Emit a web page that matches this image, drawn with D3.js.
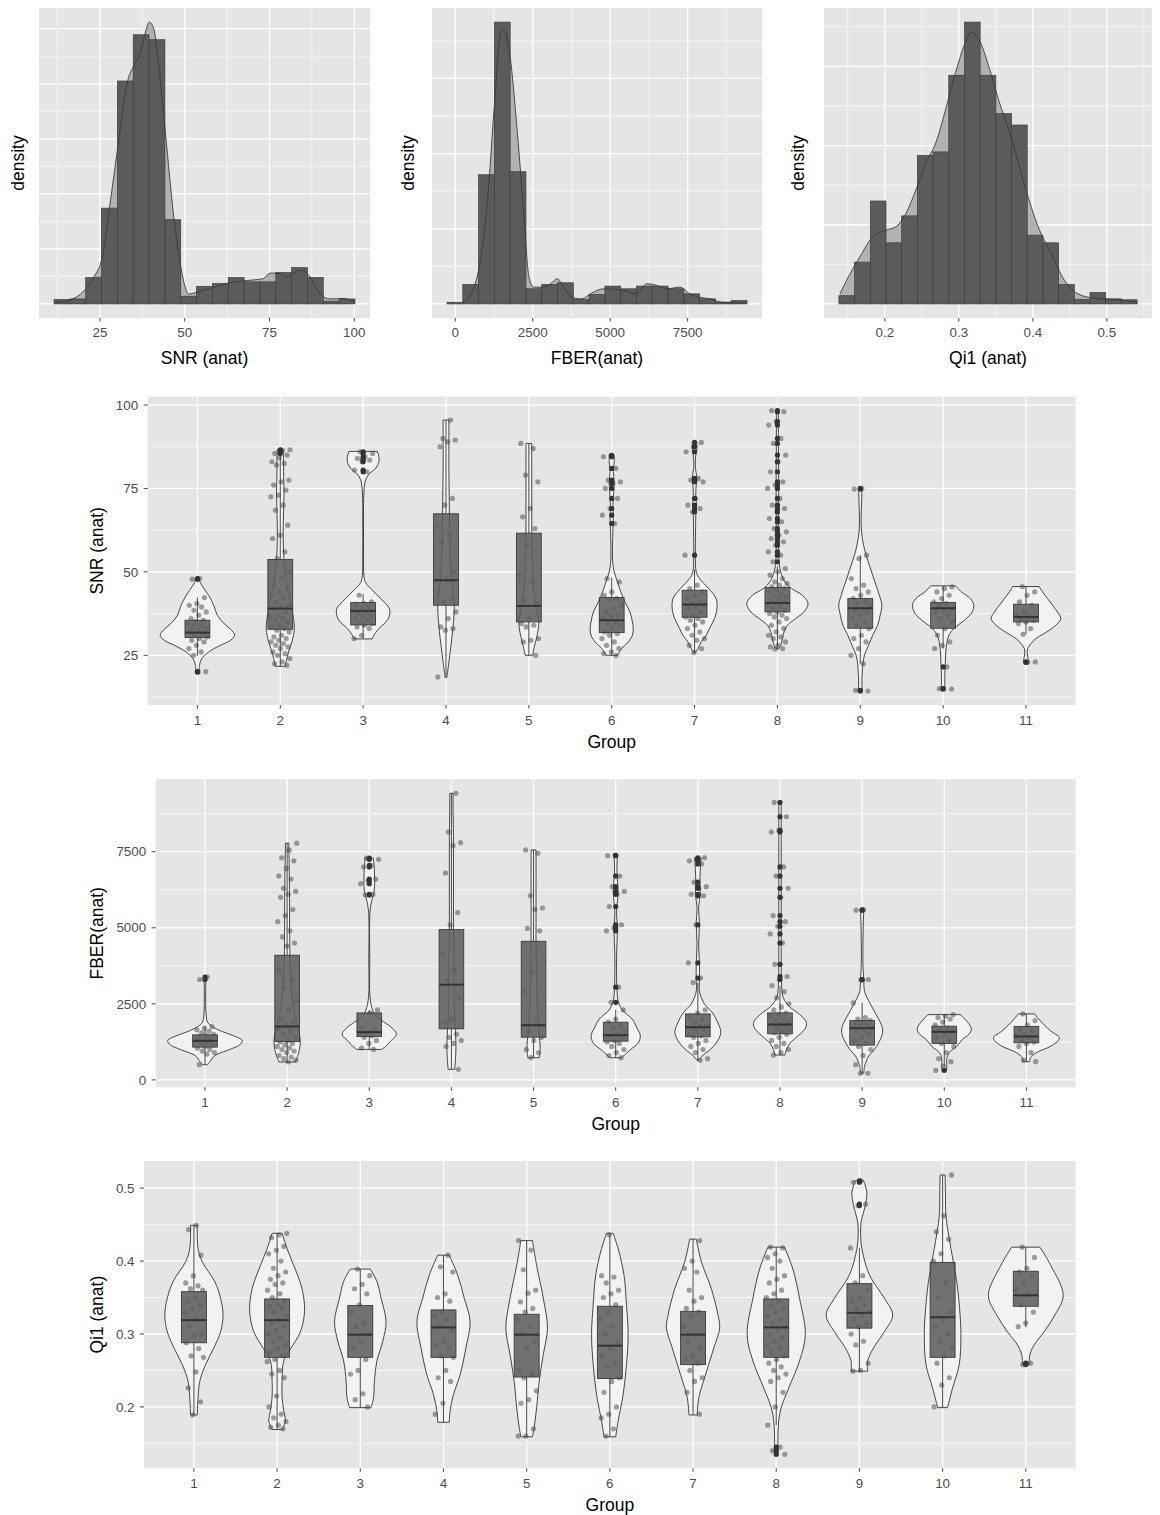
<!DOCTYPE html>
<html>
<head>
<meta charset="utf-8">
<title>Anatomical QC metrics</title>
<script src="https://d3js.org/d3.v7.min.js"></script>
<style>
  * { margin:0; padding:0; }
  body { background:#fff; font-family:"Liberation Sans", Arial, sans-serif; }
  .tick-label { font-size:13.4px; fill:#4d4d4d; }
  .axis-title { font-size:17.5px; fill:#000; }
</style>
</head>
<body>
<svg id="chart" width="1160" height="1515"></svg>
<script>
// ---------- histograms (density scale) ----------
const snrBinStart = 11.47, snrBinWidth = 4.67;
const snrHist = [0.0008,0.0009,0.0048,0.0174,0.0405,0.0489,0.0480,0.0153,0.0014,0.0032,0.0037,0.0048,0.0040,0.0040,0.0057,0.0066,0.0048,0.0005,0.0009];
const snrCurveX = [11.67,15.39,19.31,23.24,25.69,28.14,30.59,33.04,35.0,36.96,38.43,39.61,40.88,42.35,44.31,46.76,49.21,51.18,53.63,58.53,64.41,69.31,73.24,75.2,78.14,80.1,82.06,84.51,86.96,89.9,92.84,96.76,100.2];
const snrCurveY = [0.0003,0.0006,0.0018,0.0049,0.0085,0.0189,0.0299,0.0402,0.0433,0.0457,0.0494,0.0512,0.05,0.0433,0.0311,0.0159,0.0055,0.0018,0.0021,0.003,0.004,0.0043,0.0046,0.0056,0.0055,0.0049,0.0056,0.0061,0.0049,0.0018,0.0009,0.001,0.0003];
const snrTicks = [25, 50, 75, 100];

// FBER density values are x 1e5
const fberBinStart = -267, fberBinWidth = 509.6;
const fberHist = [0.22,2.59,17.19,37.5,17.59,2.01,2.59,2.81,0.58,1.25,2.37,2.01,2.37,2.37,2.01,1.34,0.67,0.22,0.45];
const fberCurveX = [258,504,772,1040,1276,1468,1575,1736,2004,2218,2378,2539,2807,3075,3289,3502,3771,4092,4360,4788,5430,5860,6181,6502,6823,7252,7573,7894,8216,8643,8964,9394];
const fberCurveY = [0.22,1.34,4.91,13.8,27.2,36.2,36.4,33.9,22.8,11.6,3.57,2.23,2.23,2.68,3.35,2.23,0.89,0.67,1.34,2.01,1.79,1.34,2.68,2.46,2.01,2.23,1.34,0.89,0.67,0.22,0.22,0.09];
const fberTicks = [0, 2500, 5000, 7500];

const qiBinStart = 0.138, qiBinWidth = 0.0212;
const qiHist = [0.26,1.32,3.25,1.93,2.78,4.69,4.80,7.22,8.90,7.22,6.01,5.65,2.17,1.93,0.61,0.14,0.36,0.16,0.13];
const qiCurveX = [0.1394,0.1483,0.1661,0.184,0.2019,0.2153,0.2286,0.242,0.2554,0.2688,0.2822,0.2956,0.309,0.317,0.3268,0.3402,0.3535,0.3714,0.3893,0.4071,0.4249,0.4428,0.4606,0.483,0.5052,0.5231,0.541];
const qiCurveY = [0.32,0.74,1.48,2.12,2.33,2.44,2.86,3.6,4.45,5.08,6.14,7.31,8.26,8.58,8.37,7.52,6.46,5.19,3.71,2.44,1.59,0.74,0.32,0.18,0.14,0.11,0.05];
const qiTicks = [0.2, 0.3, 0.4, 0.5];

// ---------- per-group violins ----------
const groups = ["1","2","3","4","5","6","7","8","9","10","11"];

// violin outlines: [value, relative half width]
const snrViolin = [
  [[20.1,0.02],[21.9,0.025],[23.9,0.05],[25.9,0.13],[27.9,0.27],[29.5,0.4],[31.0,0.45],[32.8,0.4],[34.8,0.31],[37,0.24],[39.8,0.2],[42.8,0.14],[44.8,0.085],[46.8,0.035],[48.0,0.02]],
  [[21.7,0.06],[23,0.07],[26,0.1],[29,0.14],[32.8,0.17],[36,0.16],[40,0.13],[44,0.1],[48,0.07],[52,0.05],[56,0.04],[62,0.035],[68,0.04],[74,0.045],[80,0.04],[84,0.04],[86.6,0.035]],
  [[29.9,0.11],[31,0.13],[33,0.19],[35.8,0.3],[38.8,0.32],[41.8,0.22],[44.8,0.1],[46.8,0.03],[48.8,0.01],[55,0.005],[65,0.005],[72,0.006],[75.6,0.015],[77.6,0.03],[79.6,0.08],[81,0.15],[83,0.19],[84.6,0.19],[86.1,0.17]],
  [[18.4,0.01],[22,0.03],[25,0.045],[30,0.07],[35,0.09],[40,0.1],[45,0.08],[50,0.06],[55,0.05],[60,0.045],[70,0.04],[80,0.035],[90,0.035],[95.5,0.035]],
  [[25.0,0.045],[28,0.07],[31,0.1],[34.8,0.12],[38,0.1],[42,0.07],[48,0.05],[55,0.04],[65,0.035],[75,0.035],[85,0.035],[88.5,0.035]],
  [[25.0,0.07],[27,0.12],[29,0.2],[31,0.25],[33,0.26],[35,0.25],[38,0.22],[41,0.16],[44,0.11],[47,0.07],[50,0.03],[53,0.012],[58,0.01],[63,0.015],[66,0.02],[70,0.015],[74,0.025],[77,0.03],[80,0.02],[83,0.03],[84.9,0.03]],
  [[25.8,0.01],[27,0.04],[29,0.08],[31,0.14],[33,0.18],[36,0.24],[39,0.27],[42,0.26],[45,0.17],[48,0.06],[50,0.02],[55,0.01],[62,0.012],[67,0.015],[70,0.025],[72,0.015],[76,0.02],[78,0.03],[81,0.01],[85,0.015],[87,0.03],[88.9,0.025]],
  [[26.9,0.015],[28,0.04],[30,0.06],[32,0.08],[34,0.12],[36,0.22],[38,0.32],[40.5,0.37],[43,0.3],[45,0.17],[47,0.09],[50,0.04],[53,0.02],[60,0.015],[70,0.015],[80,0.015],[90,0.012],[98.3,0.012]],
  [[14.3,0.025],[16,0.02],[18,0.02],[20,0.025],[22,0.03],[25,0.05],[28,0.1],[31,0.15],[34,0.21],[37,0.24],[40,0.26],[43,0.23],[46,0.19],[49,0.15],[52,0.11],[55,0.07],[58,0.04],[62,0.015],[66,0.01],[70,0.015],[75,0.02]],
  [[14.9,0.025],[16.5,0.02],[19,0.02],[22,0.025],[25,0.03],[28,0.04],[31,0.07],[33,0.13],[36,0.28],[38,0.35],[40,0.37],[42,0.33],[44,0.22],[45.8,0.15]],
  [[22.9,0.03],[24,0.025],[25.5,0.015],[27,0.02],[28.5,0.06],[30,0.12],[32,0.25],[34,0.36],[36,0.42],[38,0.38],[40,0.32],[42,0.26],[44,0.2],[45.6,0.16]]
];
// box: [lower whisker, q1, median, q3, upper whisker]
const snrBox = [
  [24.9,30.3,31.8,35.5,42.3],[21.7,32.8,39.0,53.7,85.0],[29.9,34.1,38.3,40.8,43.3],[18.4,40.0,47.5,67.4,95.5],
  [25.0,35.0,39.8,61.6,88.5],[25.0,31.8,35.5,42.3,48.3],[25.8,36.4,40.2,44.5,50.7],[26.9,38.0,40.7,45.3,51.7],
  [22.5,33.1,39.1,42.0,55.0],[27.0,33.1,39.1,40.8,45.8],[31.3,35.0,36.5,40.3,45.6]
];
const snrPoints = [
  [48,47.8,42.3,40.5,40,39.5,38.5,38,37,36,35.5,35,34.5,34,33.5,33,32.5,32,31.5,31,30.5,30,29.5,29,28,27,26,25,20.1,20],
  [86.6,86.4,85.5,85,84.2,83,82.5,82,77.5,77,76,74.5,73,72.5,70,68.5,64,61,60,56,54,50,48,46,45,44,43,42,41,40,39.5,39,38,37,36.5,36,35.5,35,34,33.5,33,32.5,32,31,30.5,30,29.5,29,28.5,28,27.5,27,26,25.5,25,24,23,22.5,22],
  [86,85.5,84.5,84,83.5,83,80.5,80,43,41,40.5,40,39.5,39,38.5,38,37.5,37,36.5,36,35.5,35,34.5,34,33.5,33,31,30],
  [95.5,90,89.5,89,87.5,72,70,64,61,59,50,48,44,42,41,38,36,33.5,33,32.5,18.5],
  [88.5,87,79,77,69,66.5,63,58,49,47,41.5,40.5,36,34.5,34,33.5,30,29.5,29,25],
  [84.9,84.5,81,77.5,77,76.5,75,72,69,67,64.5,48,47,44,43,42,41.5,40,39,38,37,36.5,36,35,34.5,34,33,32,31.5,31,30,29,28,27,26,25.5,25],
  [88.8,87.5,86,78,77.5,77,72,70,69,68,55,46,45,44,43,42,41,40.5,40,39.5,39,38,37,36.5,36,35.5,35,34,33,32,31,30,29.5,28,27,25.8],
  [98.3,98,95,94,90,88.5,85,83,80,77,76,75,72,70,69,68,66,65,63,62,61,60,59,58,56,55,53,51,50,49,48,47,46.5,46,45.5,45,44.5,44,43.5,43,42.5,42,41.5,41,40.5,40,39.5,39,38.5,38,37.5,37,36.5,36,35,34,33,32,31,30.5,30,29,28,27.5,27,26.9],
  [75,74.8,55,54,48,46,45,44,43,42,41,40.5,40,39,38.5,38,37,36,35,34,33,31,30,29,27,25,22.5,14.5,14.3],
  [45.5,45,44,43,42,41,40.5,40,39,38.5,38,37,36,35,33,31,29,28,27,21.5,15,14.9],
  [45.6,44,43,41,40,38,37,36.5,36,35.5,35,34.5,33,31.3,23,22.9]
];

const fberViolin = [
  [[500,0.03],[600,0.06],[800,0.12],[1000,0.3],[1150,0.42],[1290,0.455],[1450,0.35],[1600,0.2],[1766,0.08],[1900,0.03],[2000,0.02],[2300,0.01],[2800,0.008],[3200,0.01],[3380,0.015]],
  [[590,0.1],[800,0.13],[1000,0.15],[1300,0.16],[1600,0.14],[2000,0.1],[2500,0.07],[3000,0.05],[3500,0.04],[4000,0.035],[5000,0.03],[6000,0.03],[7000,0.025],[7780,0.02]],
  [[1003,0.15],[1100,0.2],[1250,0.25],[1500,0.33],[1700,0.28],[1900,0.18],[2100,0.08],[2300,0.04],[2700,0.01],[4000,0.006],[5500,0.008],[5900,0.03],[6200,0.06],[6600,0.065],[7000,0.06],[7290,0.05]],
  [[350,0.04],[700,0.05],[1100,0.055],[1500,0.05],[2000,0.04],[3000,0.03],[4000,0.03],[5000,0.025],[6000,0.025],[7000,0.025],[8000,0.025],[9000,0.02],[9420,0.02]],
  [[730,0.07],[1000,0.08],[1300,0.075],[1700,0.06],[2500,0.045],[3500,0.035],[4500,0.03],[5500,0.03],[6500,0.03],[7560,0.03]],
  [[730,0.07],[850,0.12],[1000,0.18],[1200,0.27],[1450,0.3],[1700,0.26],[2000,0.2],[2300,0.08],[2600,0.03],[3000,0.015],[4000,0.01],[5000,0.02],[5500,0.01],[6200,0.03],[6800,0.015],[7380,0.02]],
  [[643,0.01],[780,0.05],[1000,0.15],[1200,0.22],[1550,0.28],[1900,0.24],[2200,0.18],[2500,0.08],[2900,0.02],[3300,0.02],[3800,0.02],[4500,0.01],[5100,0.02],[5700,0.01],[6100,0.03],[6500,0.025],[6900,0.03],[7300,0.04]],
  [[818,0.06],[1000,0.08],[1200,0.12],[1400,0.2],[1700,0.31],[1900,0.32],[2150,0.24],[2400,0.12],[2700,0.04],[3100,0.02],[4000,0.015],[5000,0.015],[6000,0.015],[7000,0.015],[8000,0.015],[9120,0.015]],
  [[218,0.02],[450,0.03],[785,0.08],[1000,0.15],[1220,0.2],[1450,0.24],[1657,0.25],[1900,0.22],[2100,0.18],[2500,0.1],[2900,0.03],[3300,0.02],[3800,0.01],[4500,0.01],[5200,0.015],[5590,0.02]],
  [[316,0.03],[500,0.03],[700,0.03],[900,0.06],[1100,0.15],[1330,0.22],[1500,0.3],[1657,0.33],[1850,0.3],[2000,0.25],[2147,0.2]],
  [[600,0.04],[730,0.05],[894,0.12],[1112,0.3],[1300,0.39],[1400,0.4],[1600,0.3],[1800,0.22],[2000,0.15],[2170,0.1]]
];
const fberBox = [
  [500,1079,1286,1482,1750],[590,1264,1755,4098,7780],[1003,1428,1570,2202,2300],[350,1680,3130,4940,9420],
  [730,1406,1798,4556,7560],[730,1275,1471,1897,2300],[643,1417,1733,2169,3200],[818,1515,1820,2202,3100],
  [218,1145,1700,1951,2530],[450,1199,1580,1766,2147],[600,1221,1428,1755,2170]
];
const fberPoints = [
  [3380,3300,1750,1700,1650,1600,1550,1500,1450,1400,1350,1300,1280,1250,1200,1150,1100,1050,1000,950,900,850,500],
  [7780,7550,7300,7200,6950,6700,6600,6300,6200,6100,6000,5600,5400,5200,4900,4700,4500,4400,3600,3300,3000,2600,2300,2000,1900,1800,1700,1600,1500,1400,1300,1250,1200,1150,1100,1050,1000,950,900,800,750,700,650,590],
  [7290,7250,7050,7000,6600,6550,6450,6100,6080,2300,2200,1700,1650,1550,1500,1450,1400,1300,1200,1050,1003],
  [9420,8150,7800,7700,6800,5500,5100,4150,3600,3300,2700,2000,1900,1500,1400,1300,1200,1100,350],
  [7560,7450,6050,5650,5600,4980,4900,3550,2900,2000,1600,1400,1300,1000,900,730],
  [7380,7370,6700,6350,6200,6100,5700,5100,5000,4900,3050,2550,2300,2000,1900,1800,1700,1600,1500,1450,1400,1300,1250,1200,1100,1000,900,800,730],
  [7300,7250,7200,7100,6500,6350,6300,6100,6050,5100,3850,3350,3200,2300,2200,2100,2000,1900,1800,1750,1700,1650,1600,1500,1450,1400,1300,1200,1100,1000,900,700,643],
  [9120,8650,8200,8150,7000,6700,6300,6000,5400,5200,5050,4800,4500,3800,3400,3300,3100,2900,2700,2500,2400,2300,2200,2150,2100,2000,1950,1900,1850,1800,1750,1700,1650,1600,1550,1500,1400,1300,1200,1100,1000,900,818],
  [5590,5580,3300,3290,2530,2050,2000,1950,1900,1850,1800,1750,1700,1650,1600,1500,1400,1300,1200,1100,1000,800,500,220,218],
  [2147,2100,2050,2000,1900,1800,1700,1650,1600,1500,1400,1300,1200,1100,900,700,600,450,316],
  [2170,1950,1800,1650,1600,1500,1450,1400,1300,1250,1200,1100,900,650,600]
];

const qiViolin = [
  [[0.189,0.04],[0.213,0.05],[0.235,0.07],[0.258,0.14],[0.281,0.24],[0.303,0.32],[0.326,0.35],[0.349,0.32],[0.372,0.25],[0.399,0.1],[0.417,0.05],[0.449,0.04]],
  [[0.169,0.06],[0.181,0.1],[0.195,0.08],[0.213,0.06],[0.235,0.06],[0.263,0.08],[0.281,0.17],[0.303,0.28],[0.331,0.33],[0.362,0.3],[0.394,0.2],[0.417,0.12],[0.438,0.06]],
  [[0.199,0.13],[0.213,0.16],[0.235,0.17],[0.263,0.2],[0.29,0.27],[0.317,0.31],[0.349,0.25],[0.372,0.2],[0.389,0.12]],
  [[0.179,0.07],[0.195,0.08],[0.217,0.12],[0.244,0.2],[0.281,0.27],[0.317,0.32],[0.349,0.25],[0.381,0.17],[0.408,0.07]],
  [[0.159,0.07],[0.172,0.09],[0.199,0.12],[0.235,0.15],[0.272,0.2],[0.308,0.25],[0.349,0.2],[0.394,0.12],[0.428,0.07]],
  [[0.159,0.07],[0.181,0.1],[0.217,0.16],[0.258,0.2],[0.299,0.22],[0.34,0.2],[0.381,0.17],[0.417,0.1],[0.438,0.04]],
  [[0.189,0.05],[0.213,0.07],[0.244,0.15],[0.281,0.25],[0.308,0.32],[0.326,0.3],[0.362,0.22],[0.399,0.1],[0.43,0.04]],
  [[0.135,0.02],[0.158,0.02],[0.181,0.03],[0.199,0.06],[0.226,0.15],[0.263,0.28],[0.299,0.35],[0.349,0.28],[0.389,0.2],[0.419,0.1]],
  [[0.249,0.1],[0.263,0.1],[0.281,0.17],[0.303,0.3],[0.326,0.4],[0.349,0.3],[0.381,0.12],[0.417,0.03],[0.435,0.015],[0.453,0.02],[0.476,0.07],[0.494,0.09],[0.51,0.05]],
  [[0.199,0.06],[0.226,0.12],[0.258,0.2],[0.299,0.22],[0.326,0.21],[0.372,0.17],[0.417,0.1],[0.462,0.04],[0.49,0.035],[0.518,0.03]],
  [[0.258,0.04],[0.272,0.05],[0.285,0.1],[0.303,0.22],[0.326,0.35],[0.353,0.45],[0.394,0.3],[0.419,0.17]]
];
const qiBox = [
  [0.189,0.288,0.319,0.358,0.449],[0.169,0.268,0.319,0.348,0.438],[0.199,0.268,0.299,0.339,0.389],[0.179,0.268,0.309,0.333,0.408],
  [0.159,0.241,0.299,0.327,0.428],[0.159,0.239,0.284,0.338,0.438],[0.189,0.258,0.299,0.331,0.43],[0.175,0.268,0.309,0.348,0.419],
  [0.249,0.308,0.329,0.369,0.418],[0.199,0.268,0.323,0.398,0.518],[0.309,0.338,0.353,0.386,0.419]
];
const qiPoints = [
  [0.449,0.443,0.408,0.38,0.37,0.366,0.362,0.36,0.35,0.345,0.34,0.335,0.33,0.32,0.31,0.3,0.298,0.288,0.28,0.27,0.268,0.248,0.226,0.207,0.189],
  [0.438,0.436,0.432,0.42,0.415,0.41,0.4,0.39,0.385,0.38,0.375,0.37,0.368,0.36,0.355,0.35,0.345,0.34,0.338,0.335,0.33,0.325,0.32,0.315,0.31,0.305,0.3,0.295,0.29,0.285,0.28,0.275,0.27,0.265,0.262,0.25,0.245,0.24,0.215,0.2,0.19,0.185,0.18,0.175,0.172,0.17],
  [0.389,0.38,0.368,0.362,0.355,0.34,0.33,0.315,0.31,0.3,0.29,0.28,0.265,0.25,0.245,0.218,0.21,0.2],
  [0.408,0.392,0.385,0.355,0.35,0.345,0.33,0.325,0.32,0.31,0.305,0.29,0.285,0.28,0.27,0.268,0.25,0.24,0.235,0.205,0.19],
  [0.428,0.415,0.388,0.36,0.356,0.344,0.335,0.33,0.32,0.31,0.3,0.29,0.28,0.25,0.245,0.24,0.222,0.21,0.205,0.17,0.16,0.16],
  [0.436,0.38,0.378,0.37,0.36,0.355,0.35,0.34,0.33,0.32,0.31,0.3,0.29,0.28,0.27,0.26,0.255,0.24,0.235,0.22,0.2,0.19,0.185,0.17,0.16],
  [0.428,0.4,0.39,0.385,0.36,0.35,0.345,0.335,0.33,0.325,0.31,0.3,0.29,0.28,0.27,0.265,0.26,0.25,0.24,0.235,0.22,0.19],
  [0.419,0.418,0.41,0.405,0.4,0.39,0.38,0.375,0.37,0.36,0.355,0.35,0.345,0.34,0.335,0.33,0.325,0.32,0.315,0.31,0.305,0.3,0.295,0.29,0.285,0.28,0.275,0.27,0.265,0.26,0.255,0.25,0.245,0.24,0.235,0.22,0.2,0.175,0.145,0.14,0.135],
  [0.51,0.508,0.478,0.476,0.418,0.38,0.37,0.36,0.35,0.345,0.34,0.335,0.33,0.325,0.32,0.315,0.31,0.3,0.29,0.285,0.26,0.25,0.249],
  [0.518,0.462,0.44,0.43,0.41,0.4,0.37,0.35,0.33,0.32,0.31,0.3,0.29,0.28,0.27,0.26,0.24,0.23,0.2],
  [0.419,0.405,0.39,0.385,0.38,0.37,0.36,0.355,0.34,0.33,0.315,0.31,0.26,0.258]
];
const snrAxisTicks = [25, 50, 75, 100];
const fberAxisTicks = [0, 2500, 5000, 7500];
const qiAxisTicks = [0.2, 0.3, 0.4, 0.5];

const svg = d3.select("#chart");
const panelFill = "#e5e5e6";

function histPanel(p) {
  const nb = p.dens.length;
  const xLo = p.binStart, xHi = p.binStart + nb * p.binWidth;
  const xPad = (xHi - xLo) * 0.05;
  const x = d3.scaleLinear().domain([xLo - xPad, xHi + xPad]).range([p.left, p.right]);
  const yMax = Math.max(d3.max(p.dens), d3.max(p.curveY));
  const y = d3.scaleLinear().domain([-yMax * 0.05, yMax * 1.05]).range([p.bottom, p.top]);
  const g = svg.append("g");

  g.append("rect").attr("x", p.left).attr("y", p.top)
    .attr("width", p.right - p.left).attr("height", p.bottom - p.top).attr("fill", panelFill);

  const xs = p.ticks[1] - p.ticks[0];
  const [d0, d1] = x.domain();
  const xMinor = d3.range(p.ticks[0] - xs / 2, d1, xs).filter(v => v > d0);
  const yMinor = d3.range(p.yStep / 2, yMax * 1.05, p.yStep);
  const yMajor = d3.range(0, yMax * 1.05, p.yStep);
  g.selectAll(".xmin").data(xMinor).join("line")
    .attr("x1", d => x(d)).attr("x2", d => x(d)).attr("y1", p.top).attr("y2", p.bottom)
    .attr("stroke", "#fff").attr("stroke-width", 0.6);
  g.selectAll(".ymin").data(yMinor).join("line")
    .attr("x1", p.left).attr("x2", p.right).attr("y1", d => y(d)).attr("y2", d => y(d))
    .attr("stroke", "#fff").attr("stroke-width", 0.6);
  g.selectAll(".xmaj").data(p.ticks).join("line")
    .attr("x1", d => x(d)).attr("x2", d => x(d)).attr("y1", p.top).attr("y2", p.bottom)
    .attr("stroke", "#fff").attr("stroke-width", 1.3);
  g.selectAll(".ymaj").data(yMajor).join("line")
    .attr("x1", p.left).attr("x2", p.right).attr("y1", d => y(d)).attr("y2", d => y(d))
    .attr("stroke", "#fff").attr("stroke-width", 1.3);

  const curve = p.curveX.map((v, i) => [v, p.curveY[i]]);
  g.append("path").datum(curve)
    .attr("d", d3.area().x(d => x(d[0])).y0(y(0)).y1(d => y(d[1])).curve(d3.curveMonotoneX))
    .attr("fill", "#b2b2b4");

  g.selectAll(".bar").data(p.dens).join("rect")
    .attr("x", (d, i) => x(p.binStart + i * p.binWidth))
    .attr("width", x(p.binStart + p.binWidth) - x(p.binStart))
    .attr("y", d => y(d)).attr("height", d => y(0) - y(d))
    .attr("fill", "#5b5b5d").attr("stroke", "#3e3e40").attr("stroke-width", 0.7);

  g.append("path").datum(curve)
    .attr("d", d3.line().x(d => x(d[0])).y(d => y(d[1])).curve(d3.curveMonotoneX))
    .attr("fill", "none").attr("stroke", "#3a3a3a").attr("stroke-width", 0.9);

  g.selectAll(".tk").data(p.ticks).join("line")
    .attr("x1", d => x(d)).attr("x2", d => x(d)).attr("y1", p.bottom).attr("y2", p.bottom + 3.5)
    .attr("stroke", "#333").attr("stroke-width", 0.9);
  g.selectAll(".tl").data(p.ticks).join("text").attr("class", "tick-label")
    .attr("x", d => x(d)).attr("y", p.bottom + 18.5).attr("text-anchor", "middle")
    .text(p.fmt);

  g.append("text").attr("class", "axis-title").attr("text-anchor", "middle")
    .attr("x", (p.left + p.right) / 2).attr("y", p.bottom + 46).text(p.xTitle);
  g.append("text").attr("class", "axis-title").attr("text-anchor", "middle")
    .attr("transform", `translate(${p.titleX},${(p.top + p.bottom) / 2}) rotate(-90)`).text("density");
}

function jitter(i, gi) {
  const u = ((i + 1) * 0.6180339887 + gi * 0.37) % 1;
  return (u - 0.5) * 0.24;
}

function violinPanel(p) {
  const x = d3.scalePoint().domain(groups).range([p.left, p.right]).padding(0.6);
  const step = x.step();
  const all = p.violin.flat().map(d => d[0]).concat(p.points.flat());
  const lo = d3.min(all), hi = d3.max(all), pad = (hi - lo) * 0.05;
  const y = d3.scaleLinear().domain([lo - pad, hi + pad]).range([p.bottom, p.top]);
  const g = svg.append("g");

  g.append("rect").attr("x", p.left).attr("y", p.top)
    .attr("width", p.right - p.left).attr("height", p.bottom - p.top).attr("fill", panelFill);

  const ts = p.ticks[1] - p.ticks[0];
  const yMinor = d3.range(p.ticks[0] - ts / 2, hi + pad, ts).filter(v => v > lo - pad);
  g.selectAll(".ymin").data(yMinor).join("line")
    .attr("x1", p.left).attr("x2", p.right).attr("y1", d => y(d)).attr("y2", d => y(d))
    .attr("stroke", "#fff").attr("stroke-width", 0.6);
  g.selectAll(".ymaj").data(p.ticks).join("line")
    .attr("x1", p.left).attr("x2", p.right).attr("y1", d => y(d)).attr("y2", d => y(d))
    .attr("stroke", "#fff").attr("stroke-width", 1.3);
  g.selectAll(".xmaj").data(groups).join("line")
    .attr("x1", d => x(d)).attr("x2", d => x(d)).attr("y1", p.top).attr("y2", p.bottom)
    .attr("stroke", "#fff").attr("stroke-width", 1.3);

  const area = d3.area().curve(d3.curveCatmullRom).y(d => y(d[0]));
  const bw = 0.15 * step;

  groups.forEach((grp, gi) => {
    const cx = x(grp);
    const vg = g.append("g");
    vg.append("path").datum(p.violin[gi])
      .attr("d", area.x0(d => cx - d[1] * step).x1(d => cx + d[1] * step))
      .attr("fill", "#f2f2f2").attr("stroke", "#333").attr("stroke-width", 0.9);

    vg.selectAll(".pt").data(p.points[gi]).join("circle")
      .attr("cx", (d, i) => cx + jitter(i, gi) * step).attr("cy", d => y(d)).attr("r", 2.6)
      .attr("fill", "#444").attr("fill-opacity", 0.5);

    const b = p.box[gi];
    vg.append("line").attr("x1", cx).attr("x2", cx).attr("y1", y(b[0])).attr("y2", y(b[1]))
      .attr("stroke", "#3a3a3a").attr("stroke-width", 0.9);
    vg.append("line").attr("x1", cx).attr("x2", cx).attr("y1", y(b[3])).attr("y2", y(b[4]))
      .attr("stroke", "#3a3a3a").attr("stroke-width", 0.9);
    vg.append("rect").attr("x", cx - bw).attr("width", 2 * bw)
      .attr("y", y(b[3])).attr("height", y(b[1]) - y(b[3]))
      .attr("fill", "#5e5e60").attr("fill-opacity", 0.88)
      .attr("stroke", "#3a3a3a").attr("stroke-width", 0.9);
    vg.append("line").attr("x1", cx - bw).attr("x2", cx + bw).attr("y1", y(b[2])).attr("y2", y(b[2]))
      .attr("stroke", "#333").attr("stroke-width", 2);

    const out = p.points[gi].filter(v => v < b[0] || v > b[4]);
    vg.selectAll(".out").data(out).join("circle")
      .attr("cx", cx).attr("cy", d => y(d)).attr("r", 2.6).attr("fill", "#333");
  });

  g.selectAll(".ytk").data(p.ticks).join("line")
    .attr("x1", p.left - 4).attr("x2", p.left).attr("y1", d => y(d)).attr("y2", d => y(d))
    .attr("stroke", "#333").attr("stroke-width", 0.9);
  g.selectAll(".ytl").data(p.ticks).join("text").attr("class", "tick-label")
    .attr("x", p.left - 9.5).attr("y", d => y(d) + 4.7).attr("text-anchor", "end").text(p.fmt);
  g.selectAll(".xtk").data(groups).join("line")
    .attr("x1", d => x(d)).attr("x2", d => x(d)).attr("y1", p.bottom).attr("y2", p.bottom + 3.5)
    .attr("stroke", "#333").attr("stroke-width", 0.9);
  g.selectAll(".xtl").data(groups).join("text").attr("class", "tick-label")
    .attr("x", d => x(d)).attr("y", p.bottom + 19.5).attr("text-anchor", "middle").text(d => d);

  g.append("text").attr("class", "axis-title").attr("text-anchor", "middle")
    .attr("x", (p.left + p.right) / 2).attr("y", p.bottom + 42.5).text("Group");
  g.append("text").attr("class", "axis-title").attr("text-anchor", "middle")
    .attr("transform", `translate(103,${(p.top + p.bottom) / 2}) rotate(-90)`).text(p.yTitle);
}

histPanel({ left: 39, right: 370, top: 8, bottom: 318, titleX: 24,
  binStart: snrBinStart, binWidth: snrBinWidth, dens: snrHist,
  curveX: snrCurveX, curveY: snrCurveY, ticks: snrTicks, yStep: 0.01,
  fmt: d => d, xTitle: "SNR (anat)" });
histPanel({ left: 432, right: 762, top: 8, bottom: 318, titleX: 414,
  binStart: fberBinStart, binWidth: fberBinWidth, dens: fberHist,
  curveX: fberCurveX, curveY: fberCurveY, ticks: fberTicks, yStep: 10,
  fmt: d => d, xTitle: "FBER(anat)" });
histPanel({ left: 824, right: 1152, top: 8, bottom: 318, titleX: 804,
  binStart: qiBinStart, binWidth: qiBinWidth, dens: qiHist,
  curveX: qiCurveX, curveY: qiCurveY, ticks: qiTicks, yStep: 2.5,
  fmt: d3.format(".1f"), xTitle: "Qi1 (anat)" });

violinPanel({ left: 147.7, right: 1075.7, top: 396.7, bottom: 705,
  violin: snrViolin, box: snrBox, points: snrPoints, ticks: snrAxisTicks,
  fmt: d => d, yTitle: "SNR (anat)" });
violinPanel({ left: 155.7, right: 1075.7, top: 779.3, bottom: 1087.3,
  violin: fberViolin, box: fberBox, points: fberPoints, ticks: fberAxisTicks,
  fmt: d => d, yTitle: "FBER(anat)" });
violinPanel({ left: 144, right: 1075.7, top: 1161, bottom: 1468.3,
  violin: qiViolin, box: qiBox, points: qiPoints, ticks: qiAxisTicks,
  fmt: d3.format(".1f"), yTitle: "Qi1 (anat)" });
</script>
</body>
</html>
